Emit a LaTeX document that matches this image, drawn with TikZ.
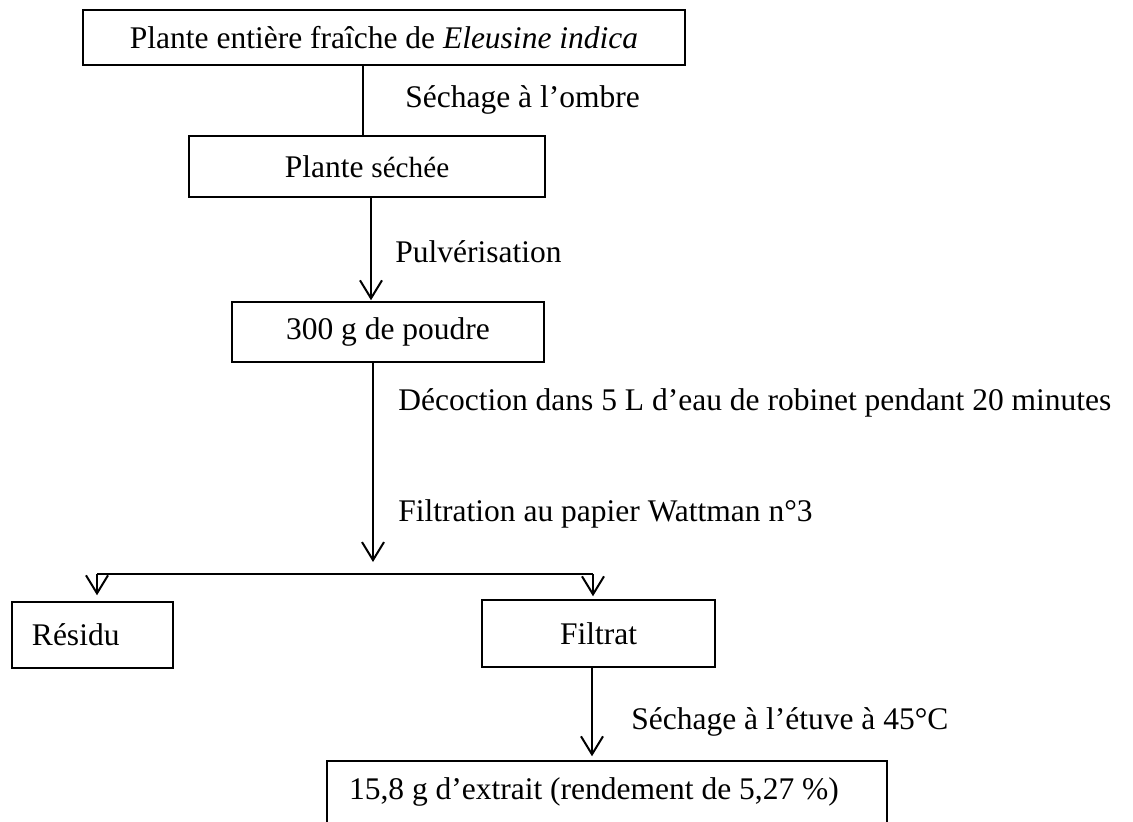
\documentclass[tikz,border=0pt]{standalone}
\usepackage{fontspec}
\setmainfont{Liberation Serif}
\usetikzlibrary{arrows.meta}
\tikzset{
  stepbox/.style={draw, line width=0.75pt, inner sep=0pt, align=center},
  conn/.style={line width=1pt},
  arr/.style={line width=1pt, -{Straight Barb[length=9pt, width=11pt, line width=1pt]}},
  lbl/.style={anchor=west, inner sep=0pt}
}
\begin{document}
\begin{tikzpicture}[x=0.5pt, y=-0.5pt, font=\fontsize{15.75}{19}\selectfont]
\useasboundingbox (0,0) rectangle (1133,822);
% boxes
\node[stepbox, minimum width=301pt, minimum height=27.5pt] (top) at (384,37.5) {Plante entière fraîche de \textit{Eleusine indica}};
\node[stepbox, minimum width=178pt, minimum height=30.5pt] (sechee) at (367,166.5) {Plante {\fontsize{14.6}{17}\selectfont séchée}};
\node[stepbox, minimum width=156pt, minimum height=30pt] (poudre) at (388,332) {300 g de poudre};
\node[stepbox, minimum width=80.5pt, minimum height=33pt, inner xsep=10pt] (residu) at (92.5,635) {\makebox[60.5pt][l]{Résidu}};
\node[stepbox, minimum width=116.5pt, minimum height=33.5pt] (filtrat) at (598.5,633.5) {Filtrat};
\node[stepbox, minimum width=280pt, minimum height=31pt, inner xsep=11pt] (extrait) at (607,792) {\makebox[258pt][l]{15,8 g d’extrait (rendement de 5,27 \%)}};
% helper coordinates
\coordinate (c1) at (363,0);
\coordinate (c2) at (371,0);
\coordinate (c3) at (373,0);
\coordinate (tip) at (373,562);
\coordinate (left) at (97,574);
\coordinate (right) at (593,574);
\coordinate (c4) at (592,0);
% connectors
\draw[conn] (top.south -| c1) -- (sechee.north -| c1);
\draw[arr] (sechee.south -| c2) -- ([yshift=0.5pt]poudre.north -| c2);
\draw[arr] (poudre.south -| c3) -- (tip);
\draw[conn] (left) -- (right);
\draw[arr] (left) -- ([yshift=3pt]residu.north -| left);
\draw[arr] (right) -- ([yshift=1.5pt]filtrat.north -| right);
\draw[arr] (filtrat.south -| c4) -- ([yshift=2pt]extrait.north -| c4);
% labels
\node[lbl] (l1) at (405,100) {Séchage à l’ombre};
\node[lbl] (l2) at (395,252) {Pulvérisation};
\node[lbl] (l3) at (398,403) {Décoction dans 5 L d’eau de robinet pendant 20 minutes};
\node[lbl] (l4) at (398,514) {Filtration au papier Wattman n°3};
\node[lbl] (l5) at (631,722) {Séchage à l’étuve à 45°C};
\end{tikzpicture}
\end{document}
